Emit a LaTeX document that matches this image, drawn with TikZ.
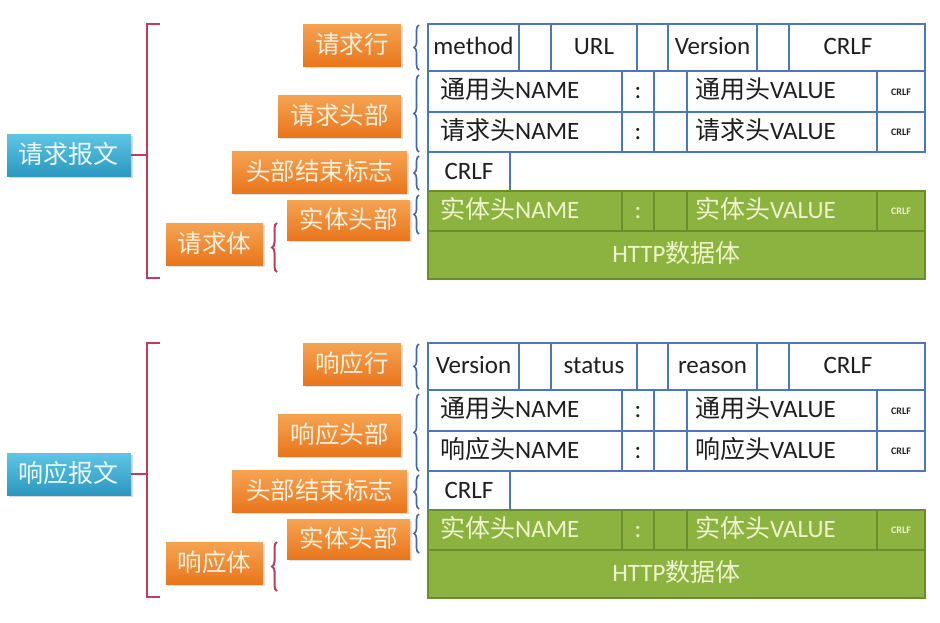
\documentclass[tikz,border=0pt]{standalone}
\usepackage{fontspec}
\setmainfont{Carlito}
\newfontfamily\cjk{Noto Sans CJK SC}
\usetikzlibrary{decorations.pathreplacing,shadows}
\newcommand\zh[1]{{\cjk #1}}
\definecolor{tblue}{HTML}{4A78C0}
\definecolor{tgreen}{HTML}{8CB23F}
\definecolor{tgreenline}{HTML}{6A8E2C}
\definecolor{gtext}{HTML}{EEF4CC}
\definecolor{oranT}{HTML}{F6A352}
\definecolor{oranB}{HTML}{E9761C}
\definecolor{otext}{HTML}{FFF1DE}
\definecolor{cyanT}{HTML}{5EC6E4}
\definecolor{cyanB}{HTML}{2C97C0}
\definecolor{redbr}{HTML}{C23B5C}
\definecolor{bluebr}{HTML}{4068B0}
\tikzset{
  box/.style={inner sep=0pt, outer sep=0pt},
  orangebox/.style={box, top color=oranT, bottom color=oranB, text=otext,
    font=\fontsize{24.5}{28}\selectfont\cjk, text height=19pt, text depth=3pt,
    drop shadow={opacity=0.25, shadow xshift=1.5pt, shadow yshift=-1.5pt}},
  mainbox/.style={box, top color=cyanT, bottom color=cyanB, text=white!92!cyan,
    font=\fontsize{25}{28}\selectfont\cjk, text height=19pt, text depth=3pt,
    drop shadow={opacity=0.3, shadow xshift=1.5pt, shadow yshift=-1.5pt}},
  wcell/.style={box, draw=tblue, line width=1.6pt, fill=white, text=black!88,
    font=\fontsize{25}{30}\selectfont, text height=18pt, text depth=4pt},
  gcell/.style={box, draw=tgreenline, line width=1.6pt, fill=tgreen, text=gtext,
    font=\fontsize{25}{30}\selectfont, text height=18pt, text depth=4pt},
  smallcrlf/.style={font=\fontsize{10}{12}\selectfont\bfseries, text height=7pt, text depth=0pt},
  ctext/.style={inner sep=0pt, anchor=west, font=\fontsize{25}{30}\selectfont,
    text height=18pt, text depth=4pt},
  redline/.style={draw=redbr, line width=2.2pt},
  bluebrace/.style={draw=bluebr, line width=1.6pt, decorate, decoration={brace, amplitude=5pt}},
  redbrace/.style={draw=redbr, line width=2pt, decorate, decoration={brace, amplitude=5pt}},
}
% name, style, x1, y1, x2, y2, text
\newcommand\cell[7]{%
  \pgfmathsetmacro\cw{#5-#3}\pgfmathsetmacro\chh{#6-#4}%
  \node[#2, minimum width=\cw pt, minimum height=\chh pt] (#1) at ({(#3+#5)/2},{(#4+#6)/2}) {#7};}
% #1 main, #2 line label, #3 head label, #4 body label, #5 #6 #7 row1 texts, #8 row3 prefix
\newcommand\msgblock[8]{%
  \cell{main}{mainbox}{7}{134}{131}{176}{#1}
  \draw[redline] (main.east) -- ++(16,0);
  \draw[redline] (160,24) -- (147,24) -- (147,278) -- (160,278);
  \cell{o1}{orangebox}{303}{24}{401}{66}{#2}
  \cell{o2}{orangebox}{278}{95}{401}{137}{#3}
  \cell{o3}{orangebox}{232}{151}{407}{193}{头部结束标志}
  \cell{o4}{orangebox}{287}{200}{410}{240}{实体头部}
  \cell{o5}{orangebox}{166}{223}{263}{265}{#4}
  \draw[redbrace] (277,272) -- (277,223);
  \draw[bluebrace] (419,70) -- (419,25);
  \draw[bluebrace] (419,152) -- (419,75);
  \draw[bluebrace] (419,190) -- (419,156);
  \draw[bluebrace] (419,234) -- (419,195);
  % row 1
  \cell{r1a}{wcell}{428}{24}{519}{71}{#5}
  \cell{r1b}{wcell}{519}{24}{551}{71}{}
  \cell{r1c}{wcell}{551}{24}{637}{71}{#6}
  \cell{r1d}{wcell}{637}{24}{668}{71}{}
  \cell{r1e}{wcell}{668}{24}{757}{71}{#7}
  \cell{r1f}{wcell}{757}{24}{789}{71}{}
  \cell{r1g}{wcell}{789}{24}{925}{71}{\hspace*{-18pt}CRLF}
  % row 2
  \cell{r2a}{wcell}{428}{71}{622}{112}{}
  \cell{r2b}{wcell}{622}{71}{654}{112}{:}
  \cell{r2c}{wcell}{654}{71}{687}{112}{}
  \cell{r2d}{wcell}{687}{71}{877}{112}{}
  \cell{r2e}{wcell,smallcrlf}{877}{71}{925}{112}{CRLF}
  \node[ctext, text=black!88] (t2a) at ([xshift=12pt]r2a.west) {\zh{通用头}NAME};
  \node[ctext, text=black!88] (t2d) at ([xshift=8pt]r2d.west) {\zh{通用头}VALUE};
  % row 3
  \cell{r3a}{wcell}{428}{112}{622}{152}{}
  \cell{r3b}{wcell}{622}{112}{654}{152}{:}
  \cell{r3c}{wcell}{654}{112}{687}{152}{}
  \cell{r3d}{wcell}{687}{112}{877}{152}{}
  \cell{r3e}{wcell,smallcrlf}{877}{112}{925}{152}{CRLF}
  \node[ctext, text=black!88] (t3a) at ([xshift=12pt]r3a.west) {\zh{#8}NAME};
  \node[ctext, text=black!88] (t3d) at ([xshift=8pt]r3d.west) {\zh{#8}VALUE};
  % header end CRLF
  \cell{cr}{wcell}{428}{152}{510}{192}{CRLF}
  % entity header (green)
  \cell{g1a}{gcell}{428}{191}{622}{231}{}
  \cell{g1b}{gcell}{622}{191}{654}{231}{:}
  \cell{g1c}{gcell}{654}{191}{687}{231}{}
  \cell{g1d}{gcell}{687}{191}{877}{231}{}
  \cell{g1e}{gcell,smallcrlf}{877}{191}{925}{231}{CRLF}
  \node[ctext, text=gtext] (tg1a) at ([xshift=12pt]g1a.west) {\zh{实体头}NAME};
  \node[ctext, text=gtext] (tg1d) at ([xshift=8pt]g1d.west) {\zh{实体头}VALUE};
  \cell{g2}{gcell}{428}{231}{925}{279}{HTTP\zh{数据体}}
}
\begin{document}
\begin{tikzpicture}[x=1pt, y=-1pt]
  \useasboundingbox (0,0) rectangle (940,622);
  \fill[white] (0,0) rectangle (940,622);
  \begin{scope}[name prefix=req-]
    \msgblock{请求报文}{请求行}{请求头部}{请求体}{method}{URL}{Version}{请求头}
  \end{scope}
  \begin{scope}[name prefix=res-, shift={(0,319)}]
    \msgblock{响应报文}{响应行}{响应头部}{响应体}{Version}{status}{reason}{响应头}
  \end{scope}
\end{tikzpicture}
\end{document}
